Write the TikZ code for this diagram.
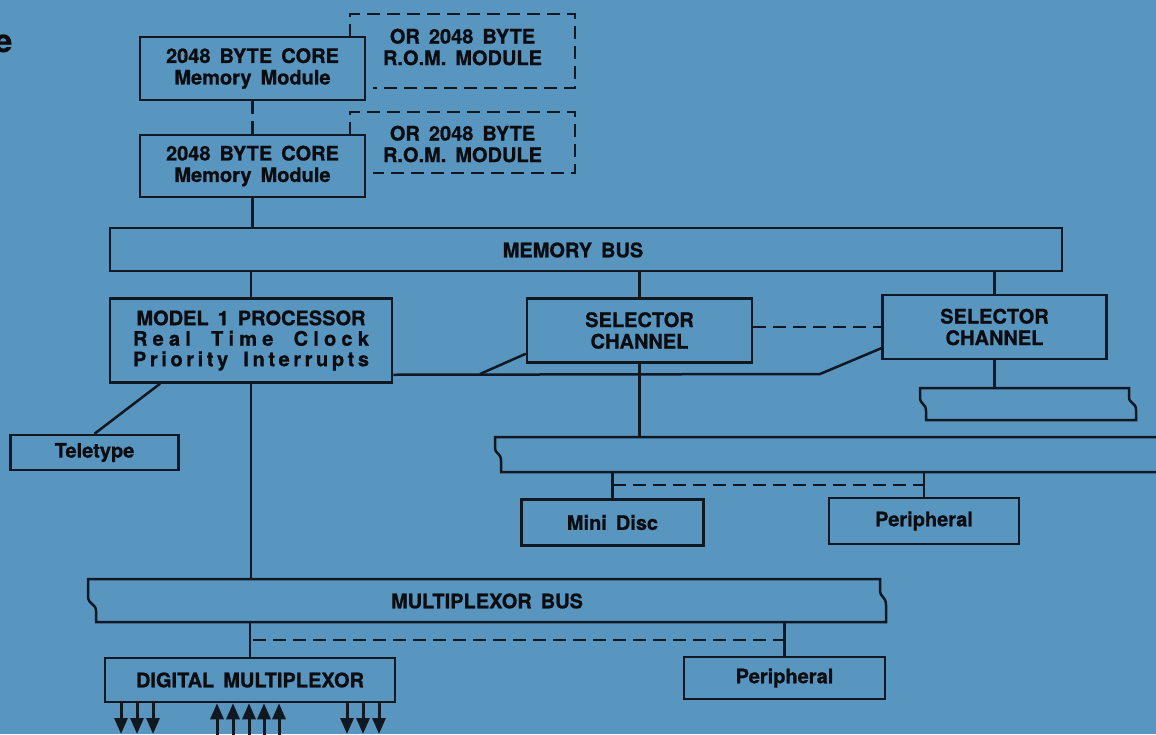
\documentclass[tikz,border=0pt]{standalone}
\usepackage{fontspec}
\setmainfont{TeX Gyre Heros}[BoldFeatures={FakeBold=0.8}]
\newfontfamily\lsA{TeX Gyre Heros}[LetterSpace=26,BoldFeatures={FakeBold=0.8}]
\newfontfamily\lsB{TeX Gyre Heros}[LetterSpace=18,BoldFeatures={FakeBold=0.8}]
\usetikzlibrary{arrows.meta}
\definecolor{bg}{RGB}{88,150,192}
\definecolor{ink}{RGB}{18,24,34}
\definecolor{txt}{RGB}{10,12,16}
\newcommand{\boxfont}{\fontsize{20}{21.5}\selectfont\bfseries\spaceskip=0.45em plus 0.4em minus 0.1em\relax}
\newcommand{\procfont}{\fontsize{20}{20.5}\selectfont\bfseries\spaceskip=0.45em plus 0.6em minus 0.2em\relax}
\tikzset{
  box/.style={draw=ink, line width=2.5pt, rectangle, inner sep=0pt, align=center, font=\boxfont, text=txt},
  lbl/.style={inner sep=0pt, align=center, font=\boxfont, text=txt},
  hold/.style={rectangle, inner sep=0pt},
  wire/.style={draw=ink, line width=2.5pt},
  dashwire/.style={wire, dash pattern=on 13pt off 7pt},
  arr/.style={wire, line width=3pt, -{Triangle[length=16pt,width=13pt]}}
}
\begin{document}
\begin{tikzpicture}[x=1pt,y=-1pt]
\useasboundingbox (0,0) rectangle (1156,734);
\fill[bg] (0,0) rectangle (1156,734);

% fragment of a title at the left edge
\node[anchor=base east, inner sep=0pt, font=\fontsize{32}{32}\selectfont\bfseries, text=txt] (frag) at (12.5,52) {e};

% memory modules
\node[box, minimum width=225pt, minimum height=63pt] (core1) at (252.5,68.5) {2048 BYTE CORE\\Memory Module};
\node[lbl] (rom1) at (462.5,47) {OR 2048 BYTE\\R.O.M. MODULE};
\draw[dashwire] (350,37) -- (350,14) -- (575,14) -- (575,88) -- (373,88);

\node[box, minimum width=225pt, minimum height=62pt] (core2) at (252.5,166) {2048 BYTE CORE\\Memory Module};
\node[lbl] (rom2) at (462.5,144) {OR 2048 BYTE\\R.O.M. MODULE};
\draw[dashwire] (350,135) -- (350,112) -- (575,112) -- (575,173) -- (373,173);

% memory bus
\node[box, minimum width=952pt, minimum height=43pt] (mbus) at (586,249.5) {};
\node[lbl] (mbusl) at (573,250) {MEMORY BUS};

% processor and channels
\node[box, minimum width=282pt, minimum height=84pt, font=\procfont] (proc) at (251,340.5)
  {MODEL 1 PROCESSOR\\\makebox[236pt][s]{\lsA\bfseries Real Time Clock}\\\makebox[236pt][s]{\lsB\bfseries Priority Interrupts}};
\node[box, minimum width=225pt, minimum height=64pt] (sel1) at (639.5,330.5) {SELECTOR\\CHANNEL};
\node[box, minimum width=224pt, minimum height=64pt] (sel2) at (994.5,327) {SELECTOR\\CHANNEL};

% selector buses (broken ends)
\node[hold, minimum width=675pt, minimum height=35pt] (sbus1) at (832.5,454.5) {};
\draw[wire] (1170,437) -- (495,437) -- (495,447) .. controls (495,455) and (501,452) .. (501,461) -- (501,472) -- (1170,472);
\node[hold, minimum width=216pt, minimum height=32pt] (sbus2) at (1028,404) {};
\draw[wire] (920,388) -- (1129,388) -- (1129,397) .. controls (1129,404) and (1136,402) .. (1136,410) -- (1136,420) -- (926,420) -- (926,411) .. controls (926,403) and (920,405) .. (920,397) -- cycle;

% devices
\node[box, minimum width=182pt, minimum height=46pt] (mdisc) at (612.5,522.5) {Mini Disc};
\node[box, minimum width=190pt, minimum height=46pt] (per1) at (924,521) {Peripheral};
\node[box, minimum width=168pt, minimum height=35pt] (tty) at (94.5,452.5) {Teletype};

% multiplexor bus
\node[hold, minimum width=797pt, minimum height=43pt] (mxbus) at (486.5,600.5) {};
\draw[wire] (88,579) -- (880,579) -- (880,590) .. controls (880,598) and (886,596) .. (886,605) -- (886,622) -- (96,622) -- (96,611) .. controls (96,603) and (88,605) .. (88,596) -- cycle;
\node[lbl] (mxbusl) at (487,601) {MULTIPLEXOR BUS};

\node[box, minimum width=290pt, minimum height=44pt] (dmux) at (250,680) {DIGITAL MULTIPLEXOR};
\node[box, minimum width=201pt, minimum height=42pt] (per2) at (784.5,678) {Peripheral};

% connectors
\draw[dashwire] (core1.south) -- (core2.north);
\draw[wire] (core2.south) -- (core2.south |- mbus.north);
\draw[wire] (proc.north |- mbus.south) -- (proc.north);
\draw[wire] (sel1.north |- mbus.south) -- (sel1.north);
\draw[wire] (sel2.north |- mbus.south) -- (sel2.north);
\draw[dashwire] (sel1.east |- sel2.west) -- (sel2.west);
\coordinate (bend) at (820,374);
\coordinate (fork) at (480,374);
\draw[wire] ([yshift=9pt]proc.south east) -- (bend) -- ([yshift=12pt]sel2.south west);
\draw[wire] (fork) -- ([yshift=10pt]sel1.south west);
\draw[wire] (sel1.south) -- (sel1.south |- sbus1.north);
\draw[wire] (sel2.south) -- (sel2.south |- sbus2.north);
\draw[wire] (mdisc.north |- sbus1.south) -- (mdisc.north);
\draw[wire] (per1.north |- sbus1.south) -- (per1.north);
\coordinate (dl1) at (612.5,485);
\draw[dashwire] (dl1) -- (dl1 -| per1.north);
\draw[wire] ([xshift=-91pt]proc.south) -- (tty.north);
\draw[wire] (proc.south) -- (proc.south |- mxbus.north);
\draw[wire] (dmux.north |- mxbus.south) -- (dmux.north);
\draw[wire] (per2.north |- mxbus.south) -- (per2.north);
\coordinate (dl2) at (253,640);
\draw[dashwire] (dl2) -- (dl2 -| per2.north);

% I/O arrows
\foreach \n/\x in {a/121,b/137,c/153,d/347,e/363,f/379}{
  \coordinate (down\n) at (\x,734);
  \draw[arr] (down\n |- dmux.south) -- (down\n);
}
\foreach \n/\x in {a/217,b/233,c/249,d/264,e/279}{
  \coordinate (up\n) at (\x,738);
  \draw[arr] (up\n) -- (up\n |- dmux.south);
}
\end{tikzpicture}
\end{document}
